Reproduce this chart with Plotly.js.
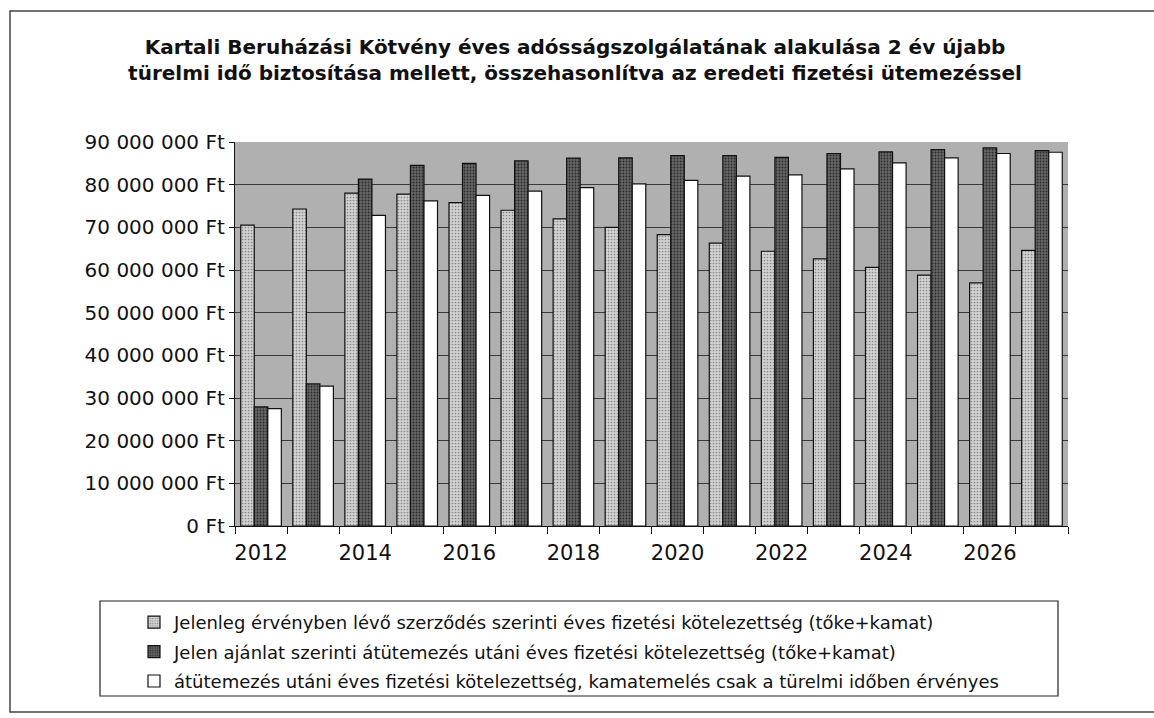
<!DOCTYPE html>
<html>
<head>
<meta charset="utf-8">
<script src="https://cdn.plot.ly/plotly-3.0.1.min.js"></script>
<style>html,body{margin:0;padding:0;background:#fff;}#chart{width:1154px;height:718px;}</style>
</head>
<body>
<div id="chart"></div>
<script>
// ---- data ----
const years = [2012,2013,2014,2015,2016,2017,2018,2019,2020,2021,2022,2023,2024,2025,2026,2027];
const currentObligation = [70500000,74300000,78000000,77800000,75800000,74000000,72000000,70000000,68300000,66300000,64400000,62600000,60600000,58800000,57000000,64600000];
const offerObligation = [27900000,33300000,81300000,84500000,85000000,85600000,86200000,86300000,86800000,86800000,86400000,87300000,87700000,88200000,88600000,88000000];
const graceOnlyObligation = [27500000,32800000,72800000,76200000,77500000,78500000,79300000,80200000,81000000,82000000,82300000,83700000,85100000,86300000,87300000,87600000];
const seriesNames = [
  "Jelenleg érvényben lévő szerződés szerinti éves fizetési kötelezettség (tőke+kamat)",
  "Jelen ajánlat szerinti átütemezés utáni éves fizetési kötelezettség (tőke+kamat)",
  "átütemezés utáni éves fizetési kötelezettség, kamatemelés csak a türelmi időben érvényes"
];
const yTickVals = [0,10000000,20000000,30000000,40000000,50000000,60000000,70000000,80000000,90000000];
const yTickText = ["0 Ft","10 000 000 Ft","20 000 000 Ft","30 000 000 Ft","40 000 000 Ft","50 000 000 Ft","60 000 000 Ft","70 000 000 Ft","80 000 000 Ft","90 000 000 Ft"];
const xLabelYears = [2012,2014,2016,2018,2020,2022,2024,2026];
const titleText = "Kartali Beruházási Kötvény éves adósságszolgálatának alakulása 2 év újabb<br>türelmi idő biztosítása mellett, összehasonlítva az eredeti fizetési ütemezéssel";

// ---- layout geometry (pixels) ----
const W = 1154, H = 718;
const ml = 235, mr = 86, mt = 142, mb = 192;
const pw = W - ml - mr, ph = H - mt - mb;
const px = x => (x - ml) / pw;
const py = y => (H - mb - y) / ph;

const FONT = "DejaVu Sans, Lato, sans-serif";

const traces = [
  {name: seriesNames[0], y: currentObligation, color: "#c9c9c9", pat: {shape: ".", fgcolor: "#888", bgcolor: "#d2d2d2", size: 3, solidity: 0.25}, lg: "a"},
  {name: seriesNames[1], y: offerObligation, color: "#555555", pat: {shape: ".", fgcolor: "#2a2a2a", bgcolor: "#666666", size: 3, solidity: 0.3}, lg: "b"},
  {name: seriesNames[2], y: graceOnlyObligation, color: "#ffffff", pat: null, lg: "c"}
].map(s => {
  const m = {color: s.color, line: {color: "#111", width: 1.2}};
  if (s.pat) m.pattern = s.pat;
  return {type: "bar", x: years, y: s.y, name: s.name, legendgroup: s.lg, marker: m, hoverinfo: "skip"};
});

const layout = {
  width: W, height: H,
  margin: {l: ml, r: mr, t: mt, b: mb},
  paper_bgcolor: "#ffffff",
  plot_bgcolor: "#b0b0b0",
  font: {family: FONT, color: "#111"},
  title: {text: titleText, font: {family: FONT, size: 20, color: "#111", weight: 700},
          x: 575 / W, xref: "container", xanchor: "center", y: 1 - 54 / H, yref: "container", yanchor: "top"},
  barmode: "group",
  bargap: 0.22,
  bargroupgap: 0,
  xaxis: {
    range: [years[0] - 0.5, years[years.length - 1] + 0.5],
    tickvals: xLabelYears, ticktext: xLabelYears.map(String),
    ticks: "", showgrid: false, zeroline: false,
    showline: true, linecolor: "#111", linewidth: 1.2,
    ticklabelstandoff: 8,
    tickfont: {size: 21, family: FONT, color: "#111"},
    minor: {tickvals: years.map(y => y - 0.5).concat([years[years.length - 1] + 0.5]), ticks: "outside", ticklen: 7, tickcolor: "#111", tickwidth: 1, showgrid: false}
  },
  yaxis: {
    range: [0, 90000000],
    tickvals: yTickVals, ticktext: yTickText,
    ticks: "outside", ticklen: 5, tickcolor: "#111",
    showgrid: true, gridcolor: "#3a3a3a", gridwidth: 1,
    zeroline: false, showline: true, linecolor: "#111", linewidth: 1.2,
    tickfont: {size: 20, family: FONT, color: "#111"}
  },
  showlegend: true,
  legend: {
    orientation: "v", x: px(134), xanchor: "left", y: py(604), yanchor: "top",
    bgcolor: "rgba(0,0,0,0)", borderwidth: 0,
    font: {size: 18, family: FONT, color: "#111"},
    tracegroupgap: 3, itemwidth: 30
  },
  shapes: [
    // outer frame
    {type: "rect", xref: "paper", yref: "paper", x0: px(10), x1: px(1160), y0: py(712), y1: py(11), line: {color: "#444", width: 1.5}, fillcolor: "rgba(0,0,0,0)", layer: "below"},
    // legend box
    {type: "rect", xref: "paper", yref: "paper", x0: px(100), x1: px(1058), y0: py(696), y1: py(601), line: {color: "#222", width: 1.2}, fillcolor: "rgba(0,0,0,0)"}
  ]
};

Plotly.newPlot("chart", traces, layout, {displayModeBar: false, staticPlot: true});
</script>
</body>
</html>
